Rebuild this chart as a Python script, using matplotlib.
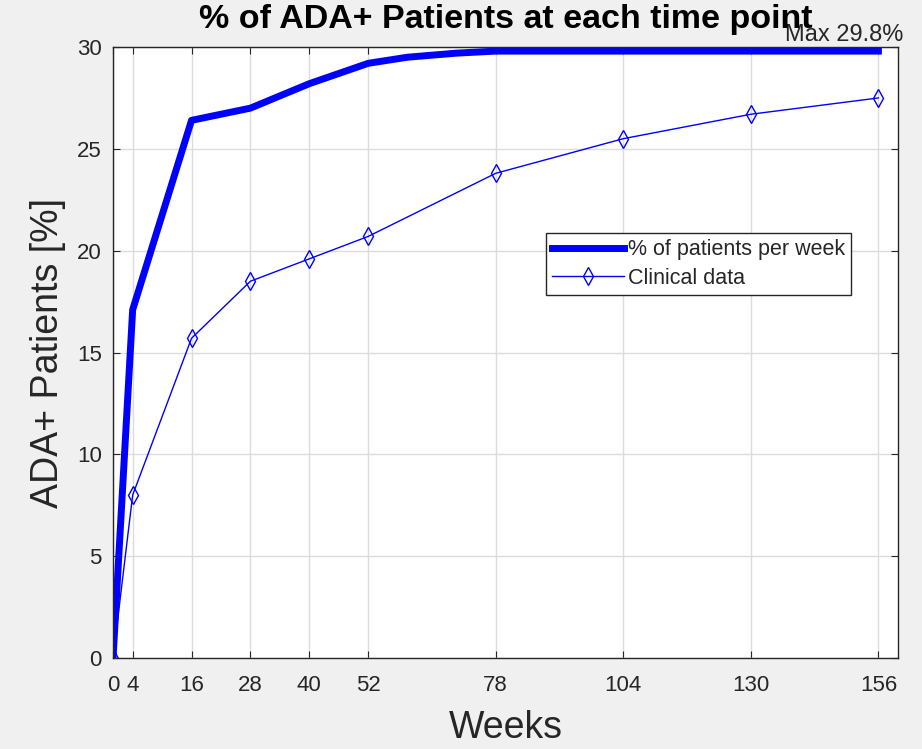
"""
% of ADA+ patients at each time point, model curve vs clinical data.
"""

import matplotlib.pyplot as plt

plt.rcParams["font.family"] = ["Liberation Sans", "DejaVu Sans"]

WEEK_TICKS = [0, 4, 16, 28, 40, 52, 78, 104, 130, 156]

# model curve (% of patients per week)
MODEL_WEEKS = [0, 4, 16, 28, 40, 52, 60, 70, 78, 156]
MODEL_PCT = [0, 17.1, 26.4, 27.0, 28.2, 29.2, 29.5, 29.7, 29.8, 29.8]

# clinical observations
CLIN_WEEKS = [0, 4, 16, 28, 40, 52, 78, 104, 130, 156]
CLIN_PCT = [0, 8.0, 15.7, 18.5, 19.6, 20.7, 23.8, 25.5, 26.7, 27.5]

MAX_LABEL = "Max 29.8%"

BLUE = "#0000ff"
DARK = "#262626"


def main():
    fig = plt.figure(figsize=(9.22, 7.49), dpi=100, facecolor="#f0f0f0")
    ax = fig.add_axes([0.1226, 0.1215, 0.8514, 0.8157])
    ax.set_facecolor("white")

    ax.plot(MODEL_WEEKS, MODEL_PCT, color=BLUE, linewidth=5,
            label="% of patients per week")
    ax.plot(CLIN_WEEKS, CLIN_PCT, color=BLUE, linewidth=1.0, marker="d",
            markersize=9, markerfacecolor="none", markeredgewidth=1.0,
            label="Clinical data")

    ax.set_xlim(0, 160)
    ax.set_ylim(0, 30)
    ax.set_xticks(WEEK_TICKS)
    ax.set_yticks(range(0, 31, 5))
    ax.grid(True, color="#dcdcdc", linewidth=1.0)
    ax.set_axisbelow(True)
    ax.tick_params(direction="in", top=True, right=True, length=5,
                   color=DARK, labelcolor=DARK, labelsize=16)
    ax.tick_params(axis="x", pad=12)
    ax.tick_params(axis="y", pad=8)
    for sp in ax.spines.values():
        sp.set_color(DARK)
        sp.set_linewidth(1.0)

    ax.set_xlabel("Weeks", fontsize=27, color=DARK, labelpad=10)
    ax.set_ylabel("ADA+ Patients [%]", fontsize=27, color=DARK, labelpad=8)
    ax.set_title("% of ADA+ Patients at each time point", fontsize=24.5,
                 fontweight="bold", color="black", pad=14)

    ax.text(137, 30.05, MAX_LABEL, fontsize=17, color=DARK,
            ha="left", va="bottom", clip_on=False)

    leg = ax.legend(loc="upper left", bbox_to_anchor=(0.5516, 0.6956),
                    fontsize=15.5, fancybox=False, framealpha=1,
                    edgecolor=DARK, handlelength=3.3, borderpad=0.3,
                    labelspacing=0.35, handletextpad=0.2, borderaxespad=0)
    leg.get_frame().set_linewidth(1.0)
    for t in leg.get_texts():
        t.set_color(DARK)

    fig.savefig("out.png", dpi=100, facecolor=fig.get_facecolor())


if __name__ == "__main__":
    main()
